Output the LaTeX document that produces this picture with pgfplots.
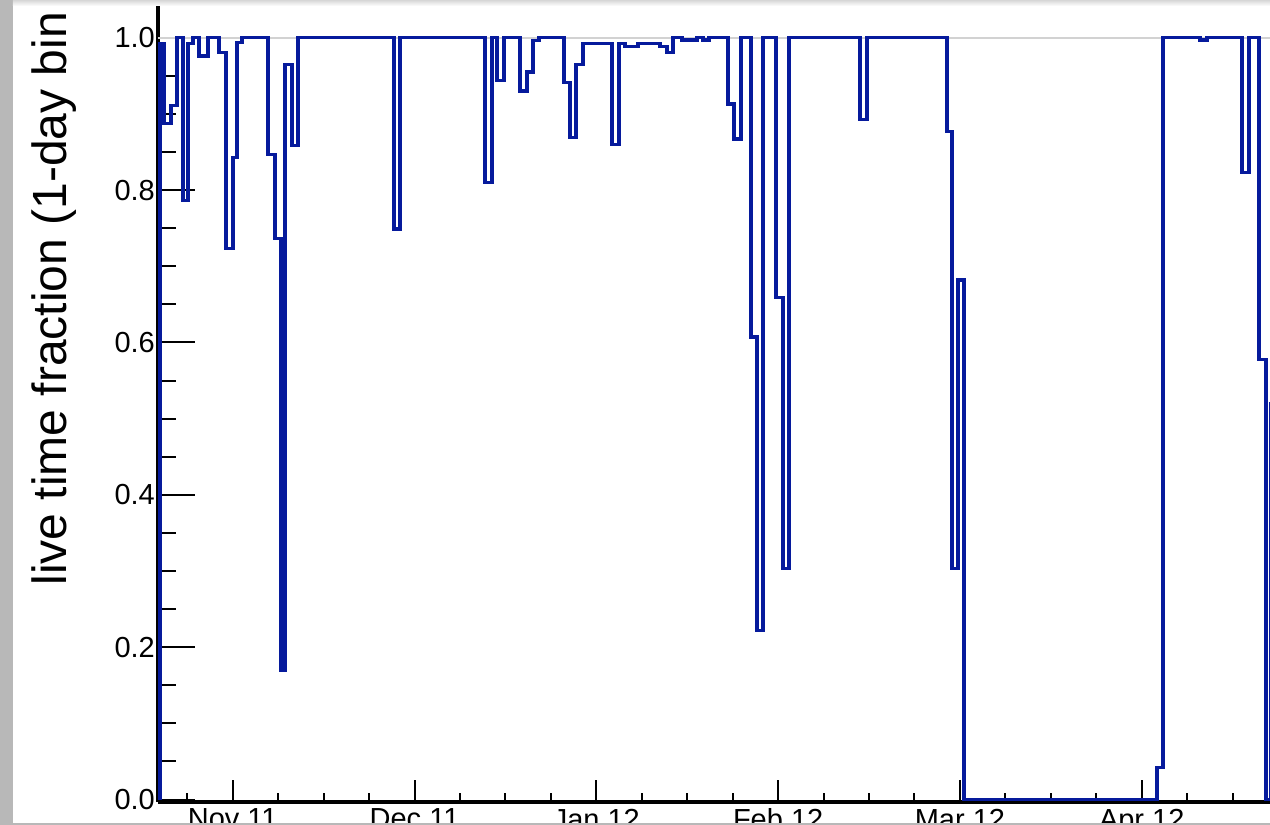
\documentclass[border=0pt]{standalone}
\usepackage{fontspec}
\setmainfont{Liberation Sans}
\usepackage{pgfplots}
\usepackage{pgfplotstable}
\pgfplotsset{compat=1.18}

\definecolor{histblue}{RGB}{6,26,156}
\definecolor{framegray}{RGB}{184,184,184}
\definecolor{refgray}{RGB}{210,210,210}

% live time fraction per 1-day bin; x = days since the start of the run
% (each row opens a bin that lasts until the next row)
\pgfplotstableread{
day     live
0       0
0       0.992
0.66    0.887
1.82    0.911
2.81    1.0
3.80    0.786
4.62    0.992
5.45    1.0
6.44    0.976
7.92    1.0
9.74    0.981
10.89   0.723
12.05   0.843
12.71   0.994
13.53   1.0
17.82   0.847
18.98   0.736
19.97   0.169
20.63   0.965
21.78   0.858
22.77   1.0
38.61   0.749
39.60   1.0
53.63   0.810
54.79   1.0
55.61   0.944
56.77   1.0
59.41   0.930
60.56   0.955
61.55   0.996
62.54   1.0
66.67   0.941
67.66   0.869
68.65   0.965
69.80   0.992
74.59   0.860
75.74   0.992
76.73   0.988
78.88   0.992
82.51   0.988
83.66   0.981
84.65   1.0
86.14   0.997
88.61   1.0
89.60   0.997
90.59   1.0
93.73   0.913
94.72   0.867
95.87   1.0
97.52   0.607
98.51   0.222
99.50   1.0
101.65  0.659
102.81  0.303
103.80  1.0
115.51  0.893
116.67  1.0
129.87  0.877
130.69  0.303
131.68  0.682
132.67  0.0
164.52  0.042
165.51  1.0
171.62  0.997
172.77  1.0
178.55  0.823
179.70  1.0
181.35  0.578
182.51  0.0
183.33  0.52
184.80  0.52
}\livetime

\pgfplotsset{
  rootframe/.style={
    at={(78.95pt,11.6pt)}, anchor=south west,
    x=3.03pt, y=380.9pt,
    xmin=-0.35, xmax=186, ymin=-0.003, ymax=1.05,
    tick align=inside,
    axis line style={-, line width=2pt, black},
    tick style={black, line width=1pt},
    ticklabel style={font=\fontsize{14.5}{17}\selectfont},
    /pgf/number format/assume math mode=true,
    clip=false,
  }
}

\begin{document}
\begin{tikzpicture}
\path[use as bounding box] (0,0) rectangle (635pt,412.5pt);
\clip (0,0) rectangle (635pt,412.5pt);
\fill[white] (0,0) rectangle (635pt,412.5pt);

% time axis
\begin{axis}[rootframe, hide y axis, axis x line*=bottom,
  xtick={12,42,72,102,132,162},
  xticklabels={Nov 11,Dec 11,Jan 12,Feb 12,Mar 12,Apr 12},
  minor xtick={4.5,19.5,27,34.5,49.5,57,64.5,79.5,87,94.5,109.5,117,124.5,139.5,147,154.5,169.5,177,184.5},
  major tick length=11pt, minor tick length=4.5pt]
\end{axis}

% live time fraction histogram
\begin{axis}[rootframe, hide x axis, axis y line*=left,
  ytick={0,0.2,0.4,0.6,0.8,1.0},
  minor y tick num=3,
  major tick length=18.5pt, minor tick length=9pt,
  yticklabel style={xshift=2pt,
    /pgf/number format/fixed,
    /pgf/number format/fixed zerofill,
    /pgf/number format/precision=1}]
  \draw[refgray, line width=1pt] (axis cs:-0.35,1) -- (axis cs:186,1);
  \addplot[const plot, histblue, line width=1.6pt, line join=miter]
    table[x=day, y=live] {\livetime};
\end{axis}

\node[rotate=90, anchor=base west, inner sep=0pt,
      font=\fontsize{24}{29}\selectfont] at (33.3pt,119.5pt)
      {live time fraction (1-day bin};

% window frame around the canvas
\fill[framegray] (0,0) rectangle (6.4pt,412.5pt);
\fill[framegray] (0,0) rectangle (635pt,1.2pt);
\shade[top color=black!16, bottom color=white] (6.4pt,409.5pt) rectangle (635pt,412.5pt);
\end{tikzpicture}
\end{document}
